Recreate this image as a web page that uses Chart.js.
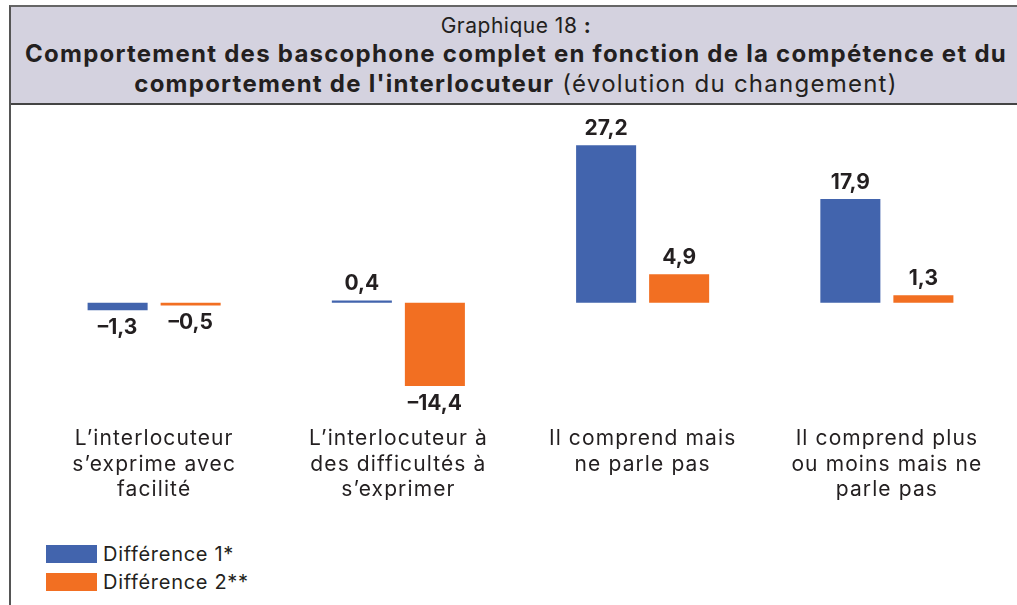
<!DOCTYPE html>
<html><head><meta charset="utf-8">
<script src="https://cdn.jsdelivr.net/npm/chart.js@4/dist/chart.umd.min.js"></script>
<style>
html,body{margin:0;padding:0;background:#fff;width:1017px;height:605px;overflow:hidden;font-family:Inter,"Open Sans",sans-serif;color:#231f20}
#frame{position:absolute;left:9px;top:5px;width:1020px;height:610px;border-left:2px solid #555;border-top:2px solid #666;}
#title{position:absolute;left:11px;top:7px;width:1010px;height:96px;background:#d4d2df;border-bottom:2px solid #444;text-align:center;}
#title .l1{font-size:21px;line-height:26px;margin-top:6px;letter-spacing:0.5px}
#title .l2{font-size:24px;line-height:30px;font-weight:700;letter-spacing:1.25px;white-space:nowrap}
#title .l3{font-size:24px;line-height:30px;letter-spacing:1.25px;white-space:nowrap}
#title .l3 b{font-weight:700}
#title .l3 span{font-weight:400}
#wrap{position:absolute;left:11px;top:105px;width:1006px;height:430px}
#legend{position:absolute;left:46px;top:540px;font-size:20px;letter-spacing:0.7px}
#legend .it{display:flex;align-items:center;height:28px}
#legend .sw{width:51px;height:18px;margin-right:6px}
</style></head><body>
<div id="frame"></div>
<div id="title">
<div class="l1">Graphique 18 <b>:</b></div>
<div class="l2">Comportement des bascophone complet en fonction de la compétence et du</div>
<div class="l3"><b>comportement de l'interlocuteur</b> <span>(évolution du changement)</span></div>
</div>
<div id="wrap"><canvas id="c" width="1006" height="430"></canvas></div>
<div id="legend"></div>
<script>
const categories = [
  ["L’interlocuteur","s’exprime avec","facilité"],
  ["L’interlocuteur à","des difficultés à","s’exprimer"],
  ["Il comprend mais","ne parle pas"],
  ["Il comprend plus","ou moins mais ne","parle pas"]
];
const seriesNames = ["Différence 1*","Différence 2**"];
const diff1 = [-1.3, 0.4, 27.2, 17.9];
const diff2 = [-0.5, -14.4, 4.9, 1.3];
const colors = ["#4264ad","#f26f22"];

const fmt = v => v.toFixed(1).replace('.', ',').replace('-', '–');

const spacing = {
  id:'spacing',
  beforeDraw(chart){ chart.ctx.letterSpacing = '1.1px'; }
};

const valueLabels = {
  id:'valueLabels',
  afterDatasetsDraw(chart){
    const ctx = chart.ctx;
    ctx.save();
    ctx.letterSpacing = '0px';
    ctx.font = '700 21px Inter, "Open Sans", sans-serif';
    ctx.fillStyle = '#231f20';
    ctx.textAlign = 'center';
    chart.data.datasets.forEach((ds,i)=>{
      chart.getDatasetMeta(i).data.forEach((bar,j)=>{
        const v = ds.data[j];
        if(v>=0){ctx.textBaseline='bottom';ctx.fillText(fmt(v),bar.x,bar.y-6);}
        else{ctx.textBaseline='top';ctx.fillText(fmt(v),bar.x,bar.y+7);}
      });
    });
    ctx.restore();
  }
};

const yMin = -17, yMax = 30, pxPerUnit = 5.79, topPad = 24;

new Chart(document.getElementById('c'),{
  type:'bar',
  data:{labels:categories,datasets:[
    {label:seriesNames[0],data:diff1,backgroundColor:colors[0]},
    {label:seriesNames[1],data:diff2,backgroundColor:colors[1]}
  ]},
  options:{
    responsive:false,animation:false,
    layout:{padding:{left:21,right:8,top:topPad,bottom:0}},
    datasets:{bar:{categoryPercentage:0.598,barPercentage:0.822}},
    plugins:{legend:{display:false},tooltip:{enabled:false}},
    scales:{
      y:{display:false,min:yMin,max:yMax},
      x:{grid:{display:false},border:{display:false},
         afterFit:s=>{s.height=430-topPad-(yMax-yMin)*pxPerUnit;},
         ticks:{color:'#231f20',padding:17,font:{family:'Inter, "Open Sans", sans-serif',size:21,lineHeight:1.22},maxRotation:0,autoSkip:false}}
    }
  },
  plugins:[spacing,valueLabels]
});

const lg = document.getElementById('legend');
seriesNames.forEach((n,i)=>{
  const d=document.createElement('div');d.className='it';
  d.innerHTML='<span class="sw" style="background:'+colors[i]+'"></span><span>'+n+'</span>';
  lg.appendChild(d);
});
</script>
</body></html>
